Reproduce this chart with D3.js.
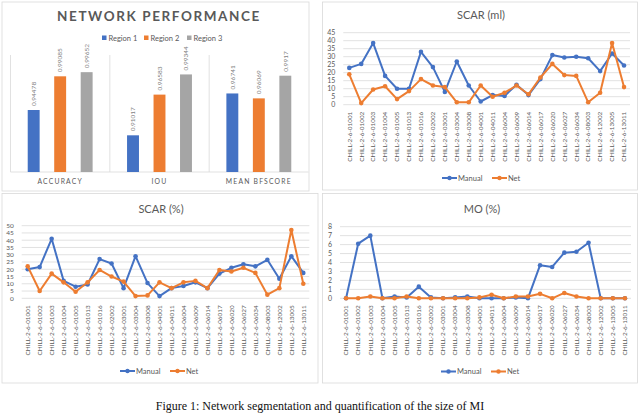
<!DOCTYPE html>
<html>
<head>
<meta charset="utf-8">
<script src="https://cdn.jsdelivr.net/npm/d3@7"></script>
<style>
  body { margin: 0; background: #fff; }
  svg { display: block; font-family: Lato, "Open Sans", sans-serif; }
</style>
</head>
<body>
<svg id="chart" width="640" height="414"></svg>
<script>
// ---- data ----
const metrics = ['ACCURACY', 'IOU', 'MEAN BFSCORE'];
const regions = ['Region 1', 'Region 2', 'Region 3'];
const region1 = [0.94478, 0.91017, 0.96741];
const region2 = [0.99085, 0.96583, 0.96069];
const region3 = [0.99652, 0.99344, 0.9917];
const regionLabels = [
  ['0.94478', '0.91017', '0.96741'],
  ['0.99085', '0.96583', '0.96069'],
  ['0.99652', '0.99344', '0.9917']
];

const cases = ['CHILL-2-6-01001', 'CHILL-2-6-01002', 'CHILL-2-6-01003', 'CHILL-2-6-01004',
  'CHILL-2-6-01005', 'CHILL-2-6-01013', 'CHILL-2-6-01016', 'CHILL-2-6-02002',
  'CHILL-2-6-03001', 'CHILL-2-6-03004', 'CHILL-2-6-03008', 'CHILL-2-6-04001',
  'CHILL-2-6-04011', 'CHILL-2-6-06004', 'CHILL-2-6-06009', 'CHILL-2-6-06014',
  'CHILL-2-6-06017', 'CHILL-2-6-06020', 'CHILL-2-6-06027', 'CHILL-2-6-06034',
  'CHILL-2-6-08003', 'CHILL-2-6-12002', 'CHILL-2-6-13005', 'CHILL-2-6-13011'];

const scarMlManual = [23, 25.5, 38.5, 18, 10, 10, 33, 23.5, 8, 27, 12, 2, 6, 5.5, 12.5, 6, 16, 31, 29.5, 30, 29, 21, 32, 24.5];
const scarMlNet    = [19, 1, 9.5, 11.5, 3.5, 8.5, 16, 12, 11, 1.5, 1.5, 12, 5, 7.5, 12, 6.5, 17, 25.5, 18.5, 18, 1.5, 7.5, 38.5, 11];

const scarPctManual = [20, 21.5, 41, 12, 8, 9.5, 27, 24, 7, 29, 10.5, 1.5, 7, 8.5, 11, 7, 17, 21, 23.5, 22, 26.5, 13.5, 29, 17.5];
const scarPctNet    = [22, 5, 17, 11, 4.5, 11, 19.5, 15, 11.5, 1.5, 2, 11, 7, 11, 12, 7, 19.5, 18.5, 21, 17.5, 2.5, 7, 47, 10];

const moManual = [0, 6.1, 7, 0, 0.2, 0.1, 1.3, 0.1, 0, 0.1, 0.2, 0, 0, 0, 0.1, 0, 3.7, 3.5, 5.1, 5.2, 6.2, 0, 0, 0];
const moNet    = [0, 0, 0.2, 0, 0, 0.2, 0, 0, 0, 0, 0, 0.1, 0.4, 0, 0.2, 0.2, 0.5, 0, 0.6, 0.2, 0, 0, 0, 0];

const blue = '#4472C4', orange = '#ED7D31', gray = '#A5A5A5';
const txt = '#595959', grid = '#D9D9D9';

const svg = d3.select('#chart');
svg.append('rect').attr('width', 640).attr('height', 414).attr('fill', '#fff');

// panel frames
const frames = [[2, 2, 307, 189], [322.5, 2, 315, 188], [2, 193.5, 316, 189.5], [322.5, 193.5, 315, 189.5]];
svg.selectAll('rect.frame').data(frames).join('rect')
  .attr('class', 'frame')
  .attr('x', d => d[0]).attr('y', d => d[1])
  .attr('width', d => d[2]).attr('height', d => d[3])
  .attr('fill', '#fff').attr('stroke', grid).attr('stroke-width', 0.8);

// ---- bar chart ----
function drawBars() {
  const g = svg.append('g');
  const x0 = d3.scaleBand().domain(metrics).range([10.5, 308.5]);
  const x1 = d3.scaleBand().domain(regions).range([0, x0.bandwidth()]).paddingInner(0.55).paddingOuter(0.65);
  const y = d3.scaleLinear().domain([0.86, 1.02]).range([172, 55]);
  const series = [region1, region2, region3];
  const colors = [blue, orange, gray];

  g.append('text').attr('x', 159).attr('y', 21).attr('text-anchor', 'middle')
    .attr('font-size', 13.5).attr('font-weight', 'bold').attr('letter-spacing', 1.6)
    .attr('fill', txt).text('NETWORK PERFORMANCE');

  // separators
  g.selectAll('line.sep').data([0, 1, 2]).join('line')
    .attr('class', 'sep')
    .attr('x1', i => 10.5 + i * x0.bandwidth()).attr('x2', i => 10.5 + i * x0.bandwidth())
    .attr('y1', 55).attr('y2', 172).attr('stroke', grid).attr('stroke-width', 0.8);
  g.append('line').attr('x1', 10.5).attr('x2', 308.5).attr('y1', 172).attr('y2', 172)
    .attr('stroke', grid).attr('stroke-width', 0.8);

  series.forEach((vals, si) => {
    g.selectAll('rect.s' + si).data(vals).join('rect')
      .attr('class', 's' + si)
      .attr('x', (d, i) => x0(metrics[i]) + x1(regions[si]))
      .attr('width', x1.bandwidth())
      .attr('y', d => y(d)).attr('height', d => 172 - y(d))
      .attr('fill', colors[si]);
    g.selectAll('text.v' + si).data(vals).join('text')
      .attr('class', 'v' + si)
      .attr('transform', (d, i) => `translate(${x0(metrics[i]) + x1(regions[si]) + x1.bandwidth() / 2 + 2.3},${y(d) - 4}) rotate(-90)`)
      .attr('font-size', 6.5).attr('fill', '#7f7f7f')
      .text((d, i) => regionLabels[si][i]);
  });

  g.selectAll('text.cat').data(metrics).join('text')
    .attr('class', 'cat')
    .attr('x', d => x0(d) + x0.bandwidth() / 2).attr('y', 184)
    .attr('text-anchor', 'middle').attr('font-size', 6.8).attr('letter-spacing', 1.2)
    .attr('fill', txt).text(d => d);

  // legend
  const lx = [102, 144, 187];
  regions.forEach((r, i) => {
    g.append('rect').attr('x', lx[i]).attr('y', 35.5).attr('width', 4.5).attr('height', 4.5).attr('fill', colors[i]);
    g.append('text').attr('x', lx[i] + 6.5).attr('y', 40.5).attr('font-size', 7.5).attr('fill', txt).text(r);
  });
}

// ---- line charts ----
function drawLines(cfg) {
  const g = svg.append('g');
  const x = d3.scaleBand().domain(cases).range(cfg.xr);
  const y = d3.scaleLinear().domain([0, cfg.max]).range(cfg.yr);
  const cx = d => x(d) + x.bandwidth() / 2;

  g.append('text').attr('x', cfg.titleX).attr('y', cfg.titleY).attr('text-anchor', 'middle')
    .attr('font-size', 11).attr('fill', txt).text(cfg.title);

  const ticks = d3.range(0, cfg.max + 0.001, cfg.step);
  g.selectAll('line.grid').data(ticks).join('line')
    .attr('class', 'grid')
    .attr('x1', cfg.xr[0]).attr('x2', cfg.xr[1])
    .attr('y1', d => y(d)).attr('y2', d => y(d))
    .attr('stroke', grid).attr('stroke-width', 0.8);
  g.selectAll('text.yt').data(ticks).join('text')
    .attr('class', 'yt')
    .attr('x', cfg.xr[0] - 8).attr('y', d => y(d) + 2.3)
    .attr('text-anchor', 'end').attr('font-size', cfg.yFont).attr('fill', txt).text(d => d);

  g.selectAll('text.xt').data(cases).join('text')
    .attr('class', 'xt')
    .attr('transform', d => `translate(${cx(d) + 2.3},${cfg.yr[0] + 7}) rotate(-90)`)
    .attr('text-anchor', 'end').attr('font-size', 6.4).attr('fill', txt).text(d => d);

  const line = d3.line().x((d, i) => cx(cases[i])).y(d => y(d));
  [[cfg.manual, blue], [cfg.net, orange]].forEach(([vals, col]) => {
    g.append('path').datum(vals).attr('d', line)
      .attr('fill', 'none').attr('stroke', col).attr('stroke-width', 2).attr('stroke-linejoin', 'round');
    g.selectAll(null).data(vals).join('circle')
      .attr('cx', (d, i) => cx(cases[i])).attr('cy', d => y(d)).attr('r', 2.3).attr('fill', col);
  });

  // legend
  const items = [['Manual', blue, cfg.legX], ['Net', orange, cfg.legX + 50]];
  items.forEach(([name, col, lx]) => {
    g.append('line').attr('x1', lx).attr('x2', lx + 15).attr('y1', cfg.legY).attr('y2', cfg.legY)
      .attr('stroke', col).attr('stroke-width', 2);
    g.append('circle').attr('cx', lx + 7.5).attr('cy', cfg.legY).attr('r', 2.2).attr('fill', col);
    g.append('text').attr('x', lx + 16).attr('y', cfg.legY + 2.6).attr('font-size', 7.5).attr('fill', txt).text(name);
  });
}

drawBars();
drawLines({ title: 'SCAR (ml)', titleX: 481, titleY: 19, xr: [343.3, 630], yr: [104.7, 32.7], max: 45, step: 5, yFont: 7,
  manual: scarMlManual, net: scarMlNet, legX: 442, legY: 178 });
drawLines({ title: 'SCAR (%)', titleX: 161, titleY: 213, xr: [21.7, 309.3], yr: [298.3, 225.7], max: 50, step: 5, yFont: 6.5,
  manual: scarPctManual, net: scarPctNet, legX: 120, legY: 371 });
drawLines({ title: 'MO (%)', titleX: 482, titleY: 213, xr: [340, 631], yr: [298.3, 226.7], max: 8, step: 1, yFont: 7,
  manual: moManual, net: moNet, legX: 441, legY: 371.5 });

svg.append('text').attr('x', 320).attr('y', 410).attr('text-anchor', 'middle')
  .attr('font-family', '"Liberation Serif", "DejaVu Serif", serif').attr('font-size', 12)
  .attr('fill', '#111').text('Figure 1: Network segmentation and quantification of the size of MI');
</script>
</body>
</html>
